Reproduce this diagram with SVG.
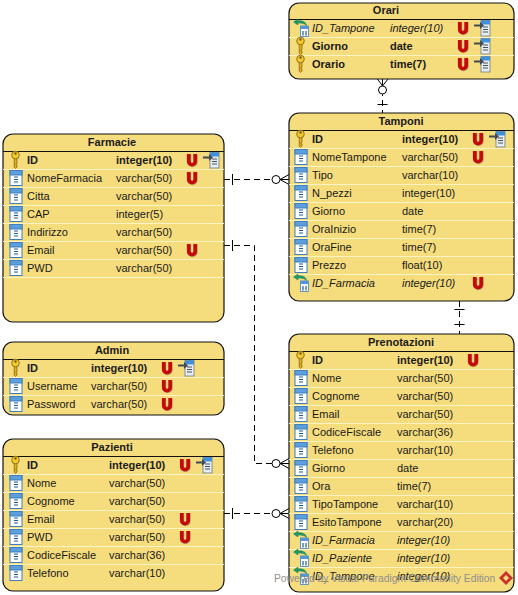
<svg xmlns="http://www.w3.org/2000/svg" width="518" height="595" viewBox="0 0 518 595">
<style>
text{font-family:"Liberation Sans",Arial,sans-serif;font-size:11px;fill:#1a1a1a}
.t{font-weight:bold;text-anchor:middle}
.b{font-weight:bold}
.i{font-style:italic}
.box{fill:#f5dc7d;stroke:#111;stroke-width:1.2}
.hl{stroke:#111;stroke-width:1}
.sep{stroke:#fdf3c4;stroke-width:1}
.c{fill:none;stroke:#000;stroke-width:1;stroke-dasharray:6 4}
.s{fill:none;stroke:#000;stroke-width:1}
.o{fill:#fff;stroke:#000;stroke-width:1}
.wm{font-size:10.3px;fill:#8f8f8f}
</style>
<defs>
<g id="key"><path d="M-1.3,-3V7L0,8.500L1.500,7V5H0.500V3.500H1.500V-3Z" fill="#e2b21c" stroke="#8a6a10" stroke-width=".8"/><ellipse cx="0" cy="-5" rx="3.800" ry="3.800" fill="#f2c92e" stroke="#8a6a10" stroke-width=".9"/><rect x="-1" y="-7.500" width="2" height="2" fill="#5a4408"/></g>
<g id="col"><rect x="-6" y="-7.500" width="12" height="15" fill="#fff" stroke="#3f7fc0"/><rect x="-6" y="-7.500" width="12" height="4.500" fill="#5d9fdc" stroke="#3f7fc0"/><path d="M-2,-1H2M-2,1.500H2M-2,4H2" stroke="#1c5a9c" stroke-width="1.100"/></g>
<g id="u"><path d="M-3.200,-6V1.500A3.200,3.200 0 0 0 3.200,1.500V-6" fill="none" stroke="#555" stroke-opacity=".35" stroke-width="3.800" transform="translate(.6,.7)"/><path d="M-3.200,-6V1.500A3.200,3.200 0 0 0 3.200,1.500V-6" fill="none" stroke="#c40a0a" stroke-width="3.800"/></g>
<g id="tbl"><rect x="-1" y="-7.500" width="9" height="15.500" fill="#e8edf2" stroke="#6c7a88" stroke-width=".8"/><rect x="-1" y="-7.500" width="9" height="4" fill="#3f8fdc"/><path d="M1,-1H6M1,1.500H6M1,4H6" stroke="#44525e"/><path d="M-8,-3.500H-2V-6L2,-2.500L-2,1V-1.500H-8Z" fill="#424a52"/></g>
<g id="fk"><rect x="7.500" y="-2" width="8" height="10.500" fill="#fff" stroke="#3f7fc0" stroke-width=".8"/><rect x="7.500" y="-2" width="8" height="3" fill="#4f97da"/><path d="M10,3V7.500M13,3V7.500" stroke="#1c5a9c" stroke-width="1.200"/><path d="M5,-9L0.500,-6L5,-3V-5C9,-5 12,-4.500 13.500,-2.500C13,-6 10,-7.500 5,-7.200Z" fill="#1f9a68" stroke="#167a50" stroke-width=".5"/></g>
</defs>

<g id="connectors">
<path class="c" d="M382.500,80V113"/><path class="s" d="M377.500,104.500H387.500"/><path class="s" d="M382.500,86L377.500,79M382.500,86L388,79M382.500,86V79"/><circle class="o" cx="382.500" cy="90" r="4"/>
<path class="c" d="M224,179.500H289"/><path class="s" d="M232.500,174V185"/><path class="s" d="M280,179.500L289,174.500M280,179.500L289,184.500M280,179.500H289"/><circle class="o" cx="276" cy="179.500" r="4"/>
<path class="c" d="M224,245.500H254.500V463.500H289"/><path class="s" d="M232.500,240V251"/><path class="s" d="M280,463.500L289,458.500M280,463.500L289,468.500M280,463.500H289"/><circle class="o" cx="276" cy="463.500" r="4"/>
<path class="c" d="M224,513.500H289"/><path class="s" d="M232.500,508V519"/><path class="s" d="M280,513.500L289,508.500M280,513.500L289,518.500M280,513.500H289"/><circle class="o" cx="276" cy="513.500" r="4"/>
<path class="c" d="M459.500,301V334"/><path class="s" d="M454.500,309.500H464.500M454.500,324.500H464.500"/>
</g>

<g id="orari">
<rect class="box" x="289" y="3" width="225" height="76" rx="10"/>
<path class="sep" d="M289,37.500H514M289,55.500H514"/>
<path class="hl" d="M289,19.500H514"/>
<text class="t" x="386" y="14">Orari</text>
<use href="#fk" x="293" y="28"/><text class="i" x="312" y="32">ID_Tampone</text><text class="i" x="390" y="32">integer(10)</text><use href="#u" x="463" y="28"/><use href="#tbl" x="482" y="28"/>
<use href="#key" x="300.500" y="46"/><text class="b" x="312" y="50">Giorno</text><text class="b" x="390" y="50">date</text><use href="#u" x="463" y="46"/><use href="#tbl" x="482" y="46"/>
<use href="#key" x="300.500" y="64"/><text class="b" x="312" y="68">Orario</text><text class="b" x="390" y="68">time(7)</text><use href="#u" x="463" y="64"/><use href="#tbl" x="482" y="64"/>
</g>

<g id="tamponi">
<rect class="box" x="289" y="113" width="225" height="188" rx="10"/>
<path class="sep" d="M289,148.500H514M289,166.500H514M289,184.500H514M289,202.500H514M289,220.500H514M289,238.500H514M289,256.500H514M289,274.500H514"/>
<path class="hl" d="M289,130.500H514"/>
<text class="t" x="401" y="125">Tamponi</text>
<use href="#key" x="300.500" y="139"/><text class="b" x="312" y="143">ID</text><text class="b" x="402" y="143">integer(10)</text><use href="#u" x="478" y="139"/><use href="#tbl" x="497" y="139"/>
<use href="#col" x="301" y="157"/><text x="312" y="161">NomeTampone</text><text x="402" y="161">varchar(50)</text><use href="#u" x="478" y="157"/>
<use href="#col" x="301" y="175"/><text x="312" y="179">Tipo</text><text x="402" y="179">varchar(10)</text>
<use href="#col" x="301" y="193"/><text x="312" y="197">N_pezzi</text><text x="402" y="197">integer(10)</text>
<use href="#col" x="301" y="211"/><text x="312" y="215">Giorno</text><text x="402" y="215">date</text>
<use href="#col" x="301" y="229"/><text x="312" y="233">OraInizio</text><text x="402" y="233">time(7)</text>
<use href="#col" x="301" y="247"/><text x="312" y="251">OraFine</text><text x="402" y="251">time(7)</text>
<use href="#col" x="301" y="265"/><text x="312" y="269">Prezzo</text><text x="402" y="269">float(10)</text>
<use href="#fk" x="293" y="283"/><text class="i" x="312" y="287">ID_Farmacia</text><text class="i" x="402" y="287">integer(10)</text><use href="#u" x="478" y="283"/>
</g>

<g id="prenotazioni">
<rect class="box" x="289" y="334" width="225" height="258" rx="10"/>
<path class="sep" d="M289,369.500H514M289,387.500H514M289,405.500H514M289,423.500H514M289,441.500H514M289,459.500H514M289,477.500H514M289,495.500H514M289,513.500H514M289,531.500H514M289,549.500H514M289,567.500H514"/>
<path class="hl" d="M289,351.500H514"/>
<text class="t" x="401" y="346">Prenotazioni</text>
<use href="#key" x="300.500" y="360"/><text class="b" x="312" y="364">ID</text><text class="b" x="397" y="364">integer(10)</text><use href="#u" x="473" y="360"/>
<use href="#col" x="301" y="378"/><text x="312" y="382">Nome</text><text x="397" y="382">varchar(50)</text>
<use href="#col" x="301" y="396"/><text x="312" y="400">Cognome</text><text x="397" y="400">varchar(50)</text>
<use href="#col" x="301" y="414"/><text x="312" y="418">Email</text><text x="397" y="418">varchar(50)</text>
<use href="#col" x="301" y="432"/><text x="312" y="436">CodiceFiscale</text><text x="397" y="436">varchar(36)</text>
<use href="#col" x="301" y="450"/><text x="312" y="454">Telefono</text><text x="397" y="454">varchar(10)</text>
<use href="#col" x="301" y="468"/><text x="312" y="472">Giorno</text><text x="397" y="472">date</text>
<use href="#col" x="301" y="486"/><text x="312" y="490">Ora</text><text x="397" y="490">time(7)</text>
<use href="#col" x="301" y="504"/><text x="312" y="508">TipoTampone</text><text x="397" y="508">varchar(10)</text>
<use href="#col" x="301" y="522"/><text x="312" y="526">EsitoTampone</text><text x="397" y="526">varchar(20)</text>
<use href="#fk" x="293" y="540"/><text class="i" x="312" y="544">ID_Farmacia</text><text class="i" x="397" y="544">integer(10)</text>
<use href="#fk" x="293" y="558"/><text class="i" x="312" y="562">ID_Paziente</text><text class="i" x="397" y="562">integer(10)</text>
<use href="#fk" x="293" y="576"/><text class="i" x="312" y="580">ID_Tampone</text><text class="i" x="397" y="580">integer(10)</text>
</g>

<g id="farmacie">
<rect class="box" x="3" y="134" width="221" height="188" rx="10"/>
<path class="sep" d="M3,169.500H224M3,187.500H224M3,205.500H224M3,223.500H224M3,241.500H224M3,259.500H224M3,277.500H224"/>
<path class="hl" d="M3,151.500H224"/>
<text class="t" x="112" y="146">Farmacie</text>
<use href="#key" x="15.500" y="160"/><text class="b" x="27" y="164">ID</text><text class="b" x="116" y="164">integer(10)</text><use href="#u" x="192" y="160"/><use href="#tbl" x="211" y="160"/>
<use href="#col" x="16" y="178"/><text x="27" y="182">NomeFarmacia</text><text x="116" y="182">varchar(50)</text><use href="#u" x="192" y="178"/>
<use href="#col" x="16" y="196"/><text x="27" y="200">Citta</text><text x="116" y="200">varchar(50)</text>
<use href="#col" x="16" y="214"/><text x="27" y="218">CAP</text><text x="116" y="218">integer(5)</text>
<use href="#col" x="16" y="232"/><text x="27" y="236">Indirizzo</text><text x="116" y="236">varchar(50)</text>
<use href="#col" x="16" y="250"/><text x="27" y="254">Email</text><text x="116" y="254">varchar(50)</text><use href="#u" x="192" y="250"/>
<use href="#col" x="16" y="268"/><text x="27" y="272">PWD</text><text x="116" y="272">varchar(50)</text>
</g>

<g id="admin">
<rect class="box" x="3" y="342" width="221" height="73" rx="10"/>
<path class="sep" d="M3,377.500H224M3,395.500H224"/>
<path class="hl" d="M3,359.500H224"/>
<text class="t" x="112" y="354">Admin</text>
<use href="#key" x="15.500" y="368"/><text class="b" x="27" y="372">ID</text><text class="b" x="91" y="372">integer(10)</text><use href="#u" x="167" y="368"/><use href="#tbl" x="186" y="368"/>
<use href="#col" x="16" y="386"/><text x="27" y="390">Username</text><text x="91" y="390">varchar(50)</text><use href="#u" x="167" y="386"/>
<use href="#col" x="16" y="404"/><text x="27" y="408">Password</text><text x="91" y="408">varchar(50)</text><use href="#u" x="167" y="404"/>
</g>

<g id="pazienti">
<rect class="box" x="3" y="439" width="221" height="152" rx="10"/>
<path class="sep" d="M3,474.500H224M3,492.500H224M3,510.500H224M3,528.500H224M3,546.500H224M3,564.500H224"/>
<path class="hl" d="M3,456.500H224"/>
<text class="t" x="112" y="451">Pazienti</text>
<use href="#key" x="15.500" y="465"/><text class="b" x="27" y="469">ID</text><text class="b" x="109" y="469">integer(10)</text><use href="#u" x="185" y="465"/><use href="#tbl" x="204" y="465"/>
<use href="#col" x="16" y="483"/><text x="27" y="487">Nome</text><text x="109" y="487">varchar(50)</text>
<use href="#col" x="16" y="501"/><text x="27" y="505">Cognome</text><text x="109" y="505">varchar(50)</text>
<use href="#col" x="16" y="519"/><text x="27" y="523">Email</text><text x="109" y="523">varchar(50)</text><use href="#u" x="185" y="519"/>
<use href="#col" x="16" y="537"/><text x="27" y="541">PWD</text><text x="109" y="541">varchar(50)</text><use href="#u" x="185" y="537"/>
<use href="#col" x="16" y="555"/><text x="27" y="559">CodiceFiscale</text><text x="109" y="559">varchar(36)</text>
<use href="#col" x="16" y="573"/><text x="27" y="577">Telefono</text><text x="109" y="577">varchar(10)</text>
</g>

<g id="watermark">
<text class="wm" x="274" y="582">Powered by Visual Paradigm Community Edition</text>
<path d="M506,571L513,578L506,585L499,578Z" fill="#c8332c"/><path d="M506,575L509,578L506,581L503,578Z" fill="#f5dc7d"/>
</g>
</svg>
